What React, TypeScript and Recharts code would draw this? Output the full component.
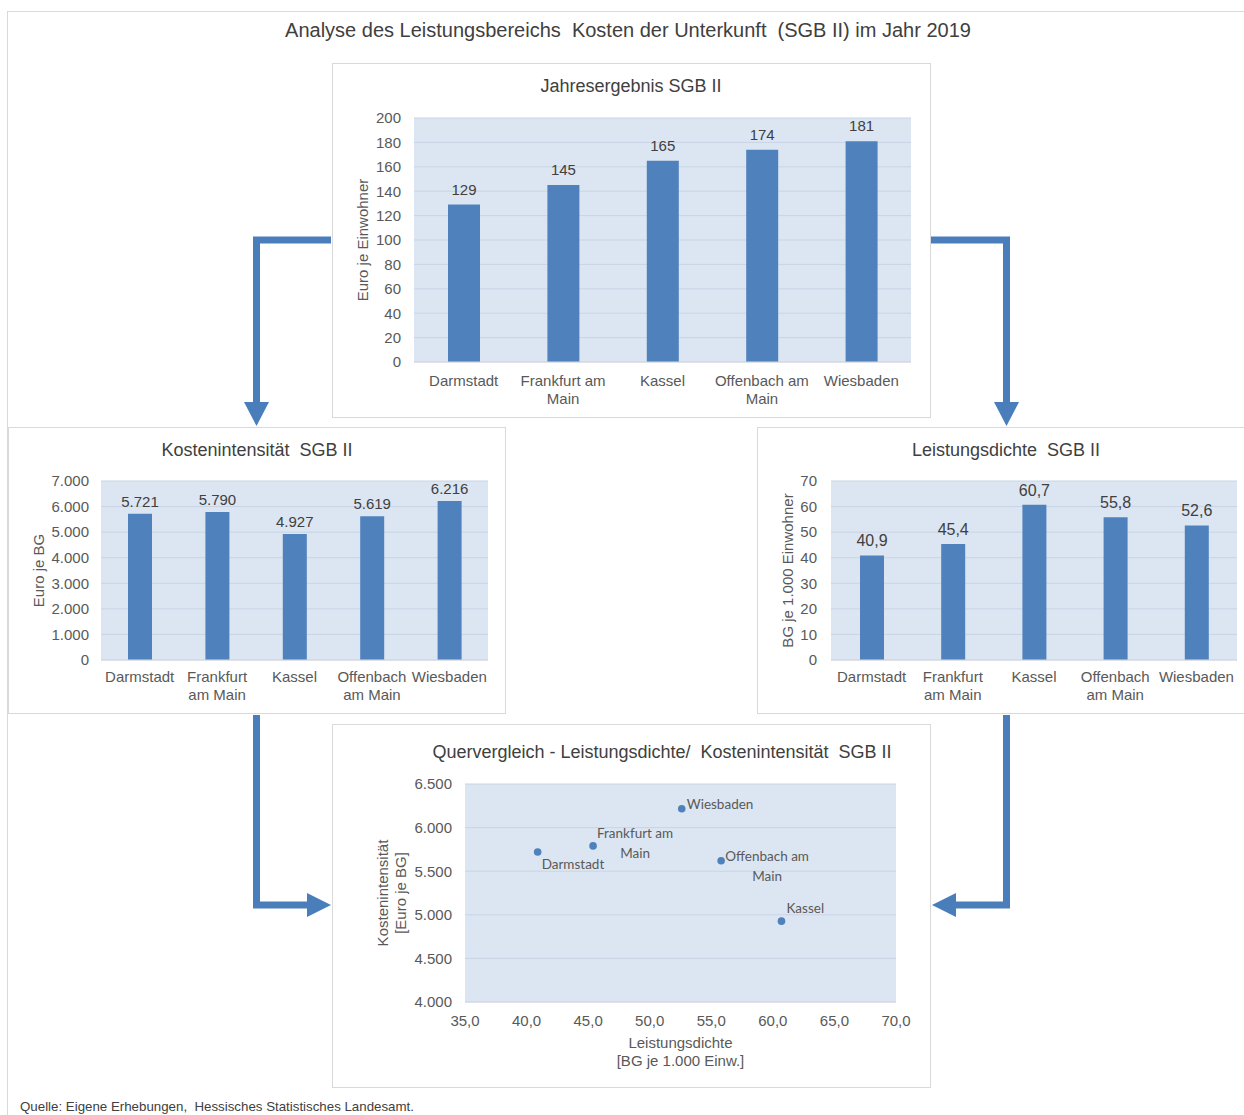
import React from 'react';
import { BarChart, Bar, XAxis, YAxis, CartesianGrid, LabelList, Label, ScatterChart, Scatter } from 'recharts';

// --- data ---
const cities = ['Darmstadt', 'Frankfurt am Main', 'Kassel', 'Offenbach am Main', 'Wiesbaden'];
const jahresergebnis = [129, 145, 165, 174, 181]; // Euro je Einwohner
const kostenintensitaet = [5721, 5790, 4927, 5619, 6216]; // Euro je BG
const leistungsdichte = [40.9, 45.4, 60.7, 55.8, 52.6]; // BG je 1.000 Einwohner

const ticksJahres = [0, 20, 40, 60, 80, 100, 120, 140, 160, 180, 200];
const ticksKosten = [0, 1000, 2000, 3000, 4000, 5000, 6000, 7000];
const ticksDichte = [0, 10, 20, 30, 40, 50, 60, 70];
const ticksScatterX = [35, 40, 45, 50, 55, 60, 65, 70];
const ticksScatterY = [4000, 4500, 5000, 5500, 6000, 6500];

// how the long city names wrap
const breaksWide: Record<string, string[]> = {
  'Frankfurt am Main': ['Frankfurt am', 'Main'],
  'Offenbach am Main': ['Offenbach am', 'Main'],
};
const breaksNarrow: Record<string, string[]> = {
  'Frankfurt am Main': ['Frankfurt', 'am Main'],
  'Offenbach am Main': ['Offenbach', 'am Main'],
};

// --- style ---
const FONT = '"Liberation Sans", Arial, sans-serif';
const LABEL_FONT = 'Lato, "Open Sans", sans-serif';
const BAR = '#4f81bd';
const PLOT_BG = '#dce6f2';
const GRID = '#c8d4e5';
const TEXT = '#595959';
const DARK = '#404040';
const ARROW = '#4a7ebb';
const BORDER = '#d9d9d9';

const fmtThousands = (v: number) => String(v).replace(/\B(?=(\d{3})+(?!\d))/g, '.');
const fmtDecimal = (v: number) => v.toFixed(1).replace('.', ',');
const fmtPlain = (v: number) => String(v);

// scatter label placement relative to the point
const pointLabelPos: Record<string, { dx: number; dy: number; anchor: string }> = {
  Darmstadt: { dx: 4, dy: 17, anchor: 'start' },
  'Frankfurt am Main': { dx: 42, dy: -8, anchor: 'middle' },
  Kassel: { dx: 5, dy: -8, anchor: 'start' },
  'Offenbach am Main': { dx: 46, dy: 0, anchor: 'middle' },
  Wiesbaden: { dx: 5, dy: 0, anchor: 'start' },
};

const CityTick = (props: any) => {
  const { x, y, payload, breaks, fontSize } = props;
  const lines: string[] = breaks[payload.value] ?? [payload.value];
  return (
    <text x={x} y={y} textAnchor="middle" fill={TEXT} fontSize={fontSize} fontFamily={FONT}>
      {lines.map((l, i) => (
        <tspan key={i} x={x} dy={i === 0 ? fontSize * 0.71 : 18}>{l}</tspan>
      ))}
    </text>
  );
};

const VerticalTitle = ({ cx, cy, lines, gap = 18 }: any) => (
  <g>
    {lines.map((l: string, i: number) => (
      <text key={i} transform={`translate(${cx + i * gap},${cy}) rotate(-90)`} textAnchor="middle"
        dominantBaseline="central" fill={TEXT} fontSize={15} fontFamily={FONT}>{l}</text>
    ))}
  </g>
);

const Title = ({ cx, cy, text, size }: any) => (
  <div style={{ position: 'absolute', left: cx - 400, top: cy - size * 0.6, width: 800, height: size * 1.2,
    lineHeight: `${size * 1.2}px`, textAlign: 'center', fontSize: size, color: DARK, whiteSpace: 'pre' }}>{text}</div>
);

const Panel = ({ left, top, width, height, children }: any) => (
  <div style={{ position: 'absolute', left, top, width, height, background: '#fff',
    outline: `1px solid ${BORDER}`, outlineOffset: -1 }}>{children}</div>
);

function CityBarChart(p: any) {
  const data = cities.map((name, i) => ({ name, value: p.values[i] }));
  const cx = p.yTitleX;
  return (
    <BarChart width={p.width} height={p.height} data={data} margin={p.margin}>
      <CartesianGrid vertical={false} fill={PLOT_BG} fillOpacity={1} stroke={GRID} />
      <XAxis dataKey="name" interval={0} tickLine={false} axisLine={{ stroke: BORDER }} tickSize={0}
        tickMargin={p.xTickMargin} tick={(t: any) => <CityTick {...t} breaks={p.breaks} fontSize={15} />} />
      <YAxis width={60} domain={[p.ticks[0], p.ticks[p.ticks.length - 1]]} ticks={p.ticks} interval={0}
        tickFormatter={p.tickFmt} tickLine={false} axisLine={false} tickSize={0} tickMargin={p.tickGap}
        tick={{ fill: TEXT, fontSize: 15, fontFamily: FONT }}>
        <Label content={(lp: any) => {
          const vb = lp.viewBox || { y: p.margin.top, height: p.height - p.margin.top - p.margin.bottom - 30 };
          return <VerticalTitle cx={cx} cy={vb.y + vb.height / 2} lines={[p.yTitle]} />;
        }} />
      </YAxis>
      <Bar dataKey="value" fill={BAR} barSize={p.barSize} isAnimationActive={false}>
        <LabelList dataKey="value" position="top" offset={p.labelOffset} formatter={(v: any) => p.fmt(v)}
          fill={DARK} fontSize={p.labelSize} fontFamily={FONT} />
      </Bar>
    </BarChart>
  );
}

const PointWithLabel = (props: any) => {
  const { cx, cy, payload } = props;
  const pos = pointLabelPos[payload.name];
  const lines = breaksWide[payload.name] ?? [payload.name];
  return (
    <g>
      <circle cx={cx} cy={cy} r={3.8} fill={BAR} />
      <text x={cx + pos.dx} y={cy + pos.dy} textAnchor={pos.anchor} fill={TEXT} fontSize={13.5} fontFamily={LABEL_FONT}>
        {lines.map((l, i) => (
          <tspan key={i} x={cx + pos.dx} dy={i === 0 ? 0 : 20}>{l}</tspan>
        ))}
      </text>
    </g>
  );
};

function CrossChart() {
  const data = cities.map((name, i) => ({ name, x: leistungsdichte[i], y: kostenintensitaet[i] }));
  return (
    <ScatterChart width={599} height={364} margin={{ top: 60, right: 35, bottom: 56, left: 73 }}>
      <CartesianGrid vertical={false} fill={PLOT_BG} fillOpacity={1} stroke={GRID} />
      <XAxis type="number" dataKey="x" domain={[35, 70]} ticks={ticksScatterX} interval={0} tickFormatter={fmtDecimal}
        tickLine={false} axisLine={{ stroke: BORDER }} tickSize={0} tickMargin={13}
        tick={{ fill: TEXT, fontSize: 15, fontFamily: FONT }}>
        <Label content={(lp: any) => {
          const vb = lp.viewBox || { x: 133, y: 278, width: 431 };
          const mx = vb.x + vb.width / 2;
          return (
            <text x={mx} y={vb.y + 46} textAnchor="middle" fill={TEXT} fontSize={15} fontFamily={FONT}>
              <tspan x={mx}>Leistungsdichte</tspan>
              <tspan x={mx} dy={18}>[BG je 1.000 Einw.]</tspan>
            </text>
          );
        }} />
      </XAxis>
      <YAxis type="number" dataKey="y" width={60} domain={[4000, 6500]} ticks={ticksScatterY} interval={0}
        tickFormatter={fmtThousands} tickLine={false} axisLine={false} tickSize={0} tickMargin={13}
        tick={{ fill: TEXT, fontSize: 15, fontFamily: FONT }}>
        <Label content={(lp: any) => {
          const vb = lp.viewBox || { y: 60, height: 218 };
          return <VerticalTitle cx={50} cy={vb.y + vb.height / 2} lines={['Kostenintensität', '[Euro je BG]']} />;
        }} />
      </YAxis>
      <Scatter data={data} isAnimationActive={false} shape={(sp: any) => <PointWithLabel {...sp} />} />
    </ScatterChart>
  );
}

const arrowPaths = [
  'M331 240 H256.5 V403',
  'M931 240 H1006.5 V403',
  'M256.5 715 V905 H308',
  'M1006.5 715 V905 H955',
];
const arrowHeads = [
  '244,402 269,402 256.5,426',
  '994,402 1019,402 1006.5,426',
  '307,893 307,917 331,905',
  '956,893 956,917 932,905',
];

export default function App() {
  return (
    <div style={{ position: 'absolute', left: 0, top: 0, width: 1244, height: 1115, background: '#fff',
      fontFamily: FONT, overflow: 'hidden' }}>
      <div style={{ position: 'absolute', left: 7, top: 11, width: 1260, height: 1130, border: `1px solid ${BORDER}` }} />
      <Title cx={628} cy={30} text="Analyse des Leistungsbereichs  Kosten der Unterkunft  (SGB II) im Jahr 2019" size={20} />

      <svg width={1244} height={1115} style={{ position: 'absolute', left: 0, top: 0 }}>
        {arrowPaths.map((d, i) => (
          <path key={i} d={d} fill="none" stroke={ARROW} strokeWidth={7} strokeLinejoin="miter" />
        ))}
        {arrowHeads.map((pts, i) => (
          <polygon key={i} points={pts} fill={ARROW} />
        ))}
      </svg>

      <Panel left={332} top={63} width={599} height={355}>
        <CityBarChart width={599} height={355} margin={{ top: 55, right: 20, bottom: 26, left: 22 }}
          values={jahresergebnis} ticks={ticksJahres} fmt={fmtPlain} tickFmt={fmtPlain} barSize={32} yTitle="Euro je Einwohner"
          yTitleX={30} tickGap={13} xTickMargin={13} breaks={breaksWide} labelOffset={10} labelSize={15} />
        <Title cx={299} cy={24} text="Jahresergebnis SGB II" size={18} />
      </Panel>

      <Panel left={8} top={427} width={498} height={287}>
        <CityBarChart width={498} height={287} margin={{ top: 54, right: 18, bottom: 24, left: 33 }}
          values={kostenintensitaet} ticks={ticksKosten} fmt={fmtThousands} tickFmt={fmtThousands} barSize={24} yTitle="Euro je BG"
          yTitleX={30} tickGap={12} xTickMargin={11} breaks={breaksNarrow} labelOffset={7} labelSize={15} />
        <Title cx={249} cy={24} text="Kostenintensität  SGB II" size={18} />
      </Panel>

      <Panel left={757} top={427} width={489} height={287}>
        <CityBarChart width={489} height={287} margin={{ top: 54, right: 9, bottom: 24, left: 14 }}
          values={leistungsdichte} ticks={ticksDichte} fmt={fmtDecimal} tickFmt={fmtPlain}
          barSize={24} yTitle="BG je 1.000 Einwohner"
          yTitleX={30} tickGap={14} xTickMargin={11} breaks={breaksNarrow} labelOffset={9} labelSize={16} />
        <Title cx={249} cy={24} text="Leistungsdichte  SGB II" size={18} />
      </Panel>

      <Panel left={332} top={724} width={599} height={364}>
        <CrossChart />
        <Title cx={330} cy={29} text="Quervergleich - Leistungsdichte/  Kostenintensität  SGB II" size={18} />
      </Panel>

      <div style={{ position: 'absolute', left: 20, top: 1099, fontSize: 13.3, color: DARK, whiteSpace: 'pre' }}>
        Quelle: Eigene Erhebungen,  Hessisches Statistisches Landesamt.
      </div>
    </div>
  );
}
